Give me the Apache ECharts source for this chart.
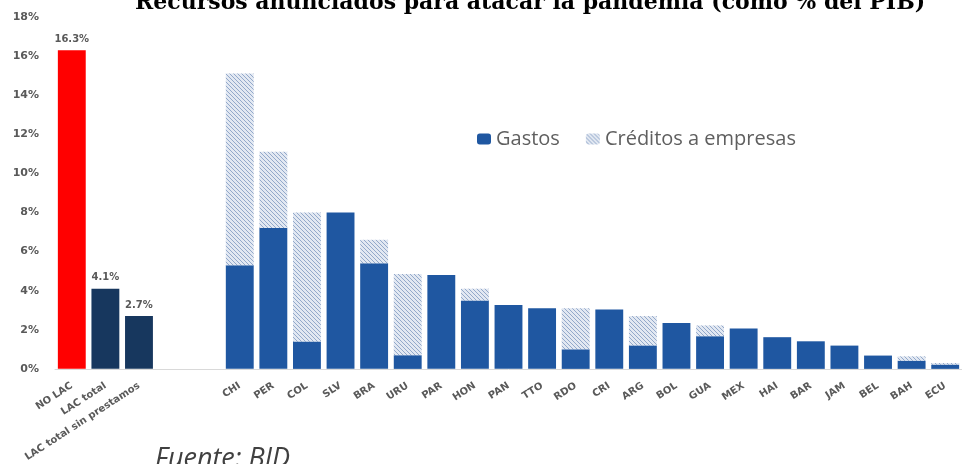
<!DOCTYPE html>
<html>
<head>
<meta charset="utf-8">
<script src="https://cdn.jsdelivr.net/npm/echarts@6/dist/echarts.min.js"></script>
<style>
html,body{margin:0;padding:0;background:#fff;}
#chart{width:962px;height:464px;}
</style>
</head>
<body>
<div id="chart"></div>
<script>
// ---- Data ----
var titleText = 'Recursos anunciados para atacar la pandemia (como % del PIB)';
var sourceText = 'Fuente: BID';
var categories = ['NO LAC','LAC total','LAC total sin prestamos','','',
  'CHI','PER','COL','SLV','BRA','URU','PAR','HON','PAN','TTO','RDO','CRI','ARG','BOL','GUA','MEX','HAI','BAR','JAM','BEL','BAH','ECU'];
var aggregateValues = [16.3, 4.1, 2.7, null, null,
  null,null,null,null,null,null,null,null,null,null,null,null,null,null,null,null,null,null,null,null,null,null];
var gastosValues = [null, null, null, null, null,
  5.3, 7.2, 1.4, 8.0, 5.4, 0.7, 4.8, 3.5, 3.27, 3.1, 1.0, 3.03, 1.2, 2.35, 1.67, 2.06, 1.62, 1.41, 1.19, 0.68, 0.42, 0.22];
var creditosValues = [null, null, null, null, null,
  9.8, 3.9, 6.6, 0, 1.2, 4.15, 0, 0.6, 0, 0, 2.1, 0, 1.5, 0, 0.55, 0, 0, 0, 0, 0, 0.22, 0.08];
var yTicks = [0, 2, 4, 6, 8, 10, 12, 14, 16, 18];

// ---- Styles ----
var aggregateColors = ['#ff0000', '#17375e', '#17375e'];
var gastosColor = '#1f57a1';

function makeHatch() {
  var c = document.createElement('canvas');
  c.width = 4; c.height = 4;
  var ctx = c.getContext('2d');
  ctx.fillStyle = '#e2e8f2';
  ctx.fillRect(0, 0, 4, 4);
  ctx.strokeStyle = '#93a9ca';
  ctx.lineWidth = 1;
  ctx.beginPath();
  ctx.moveTo(-1, -1); ctx.lineTo(5, 5);
  ctx.moveTo(-1, 3); ctx.lineTo(1, 5);
  ctx.moveTo(3, -1); ctx.lineTo(5, 1);
  ctx.stroke();
  return c;
}
var hatch = { image: makeHatch(), repeat: 'repeat' };

var chart = echarts.init(document.getElementById('chart'), null, {renderer: 'canvas'});
var tickFont = '"DejaVu Sans", sans-serif';
var legendFont = '"Open Sans", "DejaVu Sans", sans-serif';

var option = {
  animation: false,
  backgroundColor: '#ffffff',
  legend: {
    data: ['Gastos', 'Créditos a empresas'],
    left: 472,
    top: 124,
    itemWidth: 14,
    itemHeight: 11,
    itemGap: 26,
    textStyle: { fontFamily: legendFont, fontSize: 20, color: '#5f5f5f' }
  },
  grid: { left: 55, width: 918, top: 16.9, bottom: 94.7, containLabel: false },
  xAxis: {
    type: 'category',
    data: categories,
    axisLine: { lineStyle: { color: '#d9d9d9', width: 1 } },
    axisTick: { show: false },
    axisLabel: {
      interval: 0,
      rotate: 33,
      margin: 16,
      fontFamily: tickFont,
      fontWeight: 'bold',
      fontSize: 10,
      color: '#595959'
    }
  },
  yAxis: {
    type: 'value',
    min: yTicks[0],
    max: yTicks[yTicks.length - 1],
    interval: 2,
    splitLine: { show: false },
    axisLine: { show: false },
    axisTick: { show: false },
    axisLabel: {
      formatter: '{value}%',
      margin: 16,
      fontFamily: tickFont,
      fontWeight: 'bold',
      fontSize: 11,
      color: '#595959'
    }
  },
  series: [
    {
      name: 'Agregados',
      type: 'bar',
      stack: 'total',
      barCategoryGap: '17%',
      data: aggregateValues.map(function (v, i) {
        return { value: v, itemStyle: { color: aggregateColors[i] || gastosColor } };
      }),
      label: {
        show: true,
        position: 'top',
        distance: 6,
        formatter: function (p) { return p.value == null ? '' : p.value.toFixed(1) + '%'; },
        fontFamily: tickFont,
        fontWeight: 'bold',
        fontSize: 10,
        color: '#595959'
      }
    },
    {
      name: 'Gastos',
      type: 'bar',
      stack: 'total',
      barCategoryGap: '17%',
      itemStyle: { color: gastosColor },
      data: gastosValues
    },
    {
      name: 'Créditos a empresas',
      type: 'bar',
      stack: 'total',
      barCategoryGap: '17%',
      itemStyle: { color: hatch },
      data: creditosValues
    }
  ],
  graphic: [
    {
      type: 'text',
      x: 135,
      y: 14,
      style: {
        text: titleText,
        font: 'bold 22px "DejaVu Serif", serif',
        fill: '#000',
        verticalAlign: 'bottom',
        align: 'left'
      }
    },
    {
      type: 'text',
      x: 155,
      y: 446,
      style: {
        text: sourceText,
        font: 'italic 27px "Open Sans", "DejaVu Sans", sans-serif',
        fill: '#404040',
        verticalAlign: 'top',
        align: 'left'
      }
    }
  ]
};
chart.setOption(option);
</script>
</body>
</html>
